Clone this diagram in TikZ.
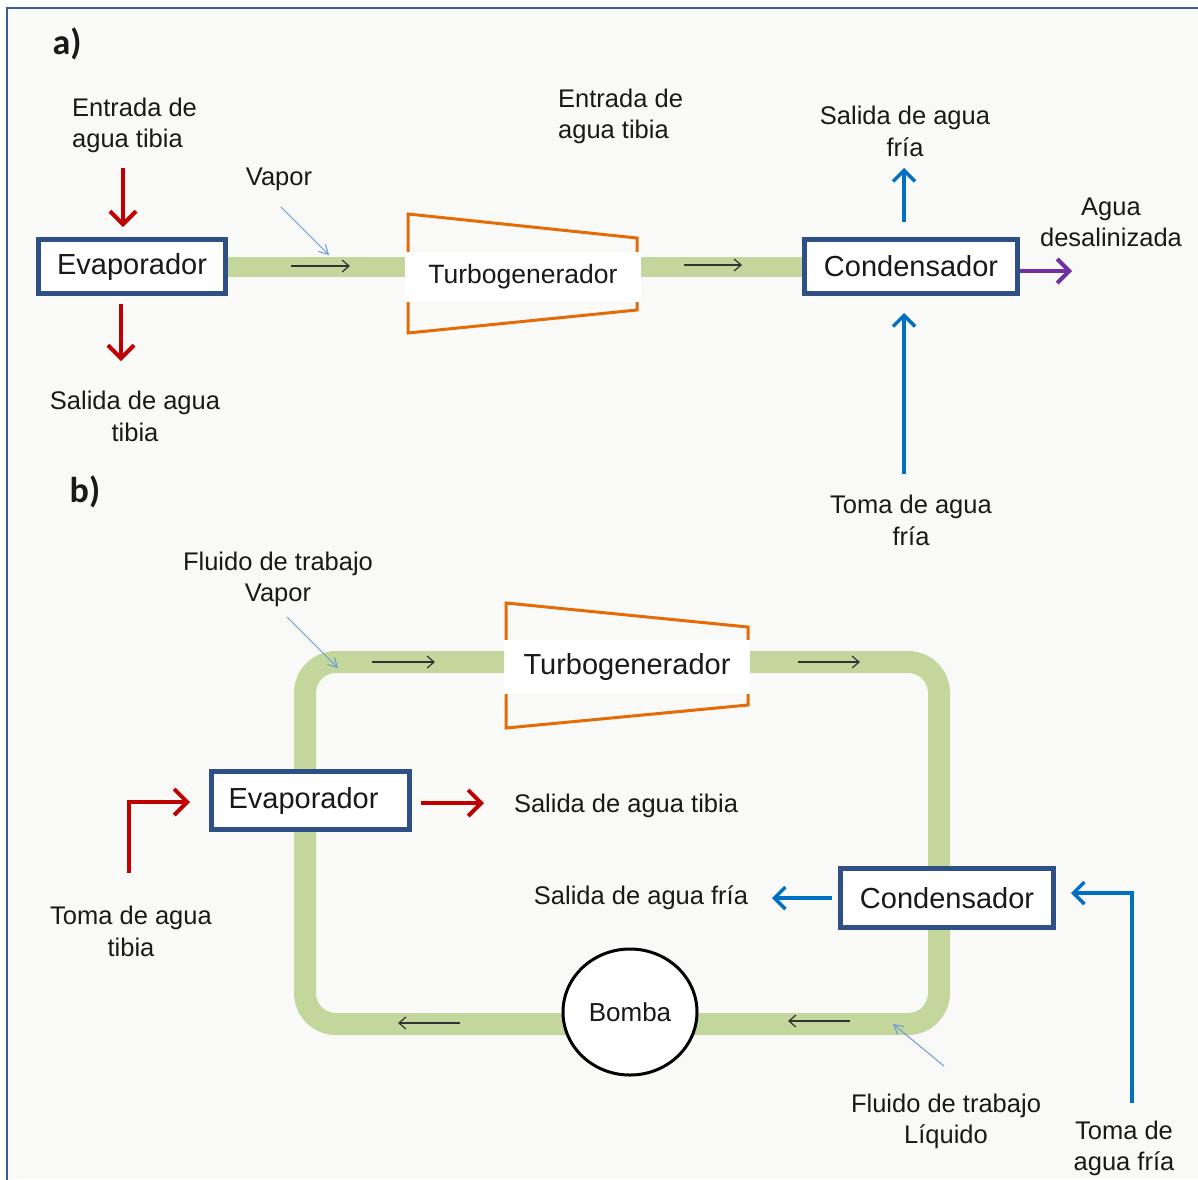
\documentclass[tikz,border=0pt]{standalone}
\usepackage{fontspec}
\setmainfont{Liberation Sans}
\newfontfamily\tagfont{Carlito}
\usetikzlibrary{arrows.meta,shapes.geometric,calc}

\definecolor{panel}{HTML}{F9FAF8}
\definecolor{framecol}{HTML}{3A5F95}
\definecolor{boxblue}{HTML}{2F5087}
\definecolor{pipegreen}{HTML}{C3D69B}
\definecolor{warmred}{HTML}{C00000}
\definecolor{coldblue}{HTML}{0070C0}
\definecolor{product}{HTML}{7030A0}
\definecolor{casing}{HTML}{E36C09}
\definecolor{pointblue}{HTML}{6A9AD6}

\pgfdeclarelayer{back}
\pgfdeclarelayer{pipes}
\pgfsetlayers{back,pipes,main}

\begin{document}
\begin{tikzpicture}[x=1pt,y=-1pt,
  lab/.style={font=\fontsize{25.5}{31.5}\selectfont, inner sep=0pt, align=center, text=black!90, yshift=-2.5pt},
  tag/.style={font=\tagfont\bfseries\fontsize{36}{40}\selectfont, inner sep=0pt, text=black!90},
  unit/.style={draw=boxblue, line width=5pt, fill=white, inner sep=0pt,
               font=\fontsize{29}{34}\selectfont, text=black!90},
  turbtext/.style={fill=white, inner sep=0pt, text=black!90},
  pipe/.style={draw=pipegreen, line width=20pt},
  flow/.style={draw=black!80, line width=1.2pt, -{Straight Barb[length=7pt,width=12pt]}},
  pointer/.style={draw=pointblue, line width=1pt, -{Straight Barb[length=9pt,width=10pt]}},
  warm/.style={draw=warmred, line width=4pt, -{Straight Barb[length=13pt,width=26pt]}},
  cold/.style={draw=coldblue, line width=3.5pt, -{Straight Barb[length=11pt,width=22pt]}},
  fresh/.style={draw=product, line width=4pt, -{Straight Barb[length=12pt,width=24pt]}},
  shell/.style={draw=casing, line width=3pt, line join=miter}
]
\useasboundingbox (0,0) rectangle (1198,1179);

% page and frame
\begin{pgfonlayer}{back}
  \fill[white] (0,0) rectangle (1198,1179);
  \fill[panel] (7,8) rectangle (1198,1179);
  \draw[framecol, line width=2.5pt] (7,1190) -- (7,8) -- (1210,8);
\end{pgfonlayer}

% ---------------- a) open cycle ----------------
\node[tag] (tagA) at (67,44) {a)};

\node[unit, minimum width=187pt, minimum height=54pt] (evapA) at (132,266.5) {Evaporador};
\node[unit, minimum width=213pt, minimum height=54pt] (condA) at (911,266.5) {Condensador};

% turbine casing
\draw[shell] (408,214) -- (637,238) -- (637,310) -- (408,333) -- cycle;
\node[turbtext, minimum width=236pt, minimum height=50pt,
      font=\fontsize{26.5}{31}\selectfont] (turbA) at (523,277) {Turbogenerador};

\begin{pgfonlayer}{pipes}
  \draw[pipe] (evapA.east) -- (turbA.west |- evapA.east);
  \draw[pipe] (turbA.east |- condA.west) -- (condA.west);
\end{pgfonlayer}

\draw[flow] (291,266) coordinate (fA1) -- (350,266) coordinate (fA2);
\draw[flow] (684,265) coordinate (fA3) -- (742,265) coordinate (fA4);

\node[lab, align=left, anchor=west] (inWarmA) at (72,123) {Entrada de\\agua tibia};
\node[lab] (outWarmA) at (135,414) {Salida de agua\\tibia};
\node[lab] (vapA) at (279,177) {Vapor};
\node[lab, align=left, anchor=west] (inWarmA2) at (558,114) {Entrada de\\agua tibia};
\node[lab] (outColdA) at (905,129) {Salida de agua\\fría};
\node[lab] (inColdA) at (911,518) {Toma de agua\\fría};
\node[lab] (desal) at (1111,220) {Agua\\desalinizada};

\coordinate (wA1) at (123,168);
\draw[warm] (wA1) -- ($(wA1 |- evapA.north)+(0,-10)$);
\coordinate (wA2) at (121,361);
\draw[warm] ($(wA2 |- evapA.south)+(0,8)$) -- (wA2);

\coordinate (cA1) at (904,168);
\draw[cold] ($(cA1 |- condA.north)+(0,-15)$) -- (cA1);
\coordinate (cA2) at (904,474);
\draw[cold] (cA2) -- ($(cA2 |- condA.south)+(0,17)$);

\coordinate (pA) at (1072,271);
\draw[fresh] (condA.east |- pA) -- (pA);

\coordinate (vA1) at (281,207);
\coordinate (vA2) at (329,255);
\draw[pointer] (vA1) -- (vA2);

% ---------------- b) closed cycle ----------------
\node[tag] (tagB) at (85,492) {b)};

\coordinate (loopNW) at (305,662);
\coordinate (loopSE) at (939,1024);
\begin{pgfonlayer}{pipes}
  \draw[pipe, line width=22pt, rounded corners=31pt] (loopNW) rectangle (loopSE);
\end{pgfonlayer}

\node[unit, minimum width=198pt, minimum height=58pt] (evapB) at (310.5,800.5) {Evaporador\hspace*{14pt}};
\node[unit, minimum width=213pt, minimum height=59pt] (condB) at (947,898) {Condensador};
\node[ellipse, draw=black, line width=3pt, fill=white, minimum width=134pt, minimum height=126pt,
      inner sep=0pt, font=\fontsize{26}{30}\selectfont, text=black!90] (pump) at (630,1012) {Bomba};

\draw[shell] (506,603) -- (748,627) -- (748,705) -- (506,728) -- cycle;
\node[turbtext, minimum width=246pt, minimum height=54pt,
      font=\fontsize{29}{34}\selectfont] (turbB) at (627,667) {Turbogenerador};

\draw[flow] (372,662) coordinate (fB1) -- (435,662) coordinate (fB2);
\draw[flow] (798,662) coordinate (fB3) -- (860,662) coordinate (fB4);
\draw[flow] (460,1023) coordinate (fB5) -- (398,1023) coordinate (fB6);
\draw[flow] (850,1021) coordinate (fB7) -- (788,1021) coordinate (fB8);

\node[lab] (vapB) at (278,577) {Fluido de trabajo\\Vapor};
\node[lab] (liqB) at (946,1119) {Fluido de trabajo\\Líquido};
\node[lab] (inWarmB) at (131,929) {Toma de agua\\tibia};
\node[lab] (outWarmB) at (626,803) {Salida de agua tibia};
\node[lab] (outColdB) at (641,895) {Salida de agua fría};
\node[lab] (inColdB) at (1124,1146) {Toma de\\agua fría};

\coordinate (vB1) at (287,617);
\coordinate (vB2) at (338,668);
\draw[pointer] (vB1) -- (vB2);
\coordinate (lB1) at (944,1066);
\coordinate (lB2) at (893,1024);
\draw[pointer] (lB1) -- (lB2);

\coordinate (wB1) at (129,873);
\coordinate (wB2) at (129,802);
\draw[warm] (wB1) -- (wB2) -- ($(evapB.west |- wB2)+(-19,0)$);
\coordinate (wB3) at (484,803);
\draw[warm] ($(evapB.east |- wB3)+(9,0)$) -- (wB3);

\coordinate (cB1) at (772,898);
\draw[cold] ($(condB.west |- cB1)+(-6,0)$) -- (cB1);
\coordinate (cB2) at (1132,1103);
\coordinate (cB3) at (1132,893);
\draw[cold] (cB2) -- (cB3) -- ($(condB.east |- cB3)+(15,0)$);

\end{tikzpicture}
\end{document}
